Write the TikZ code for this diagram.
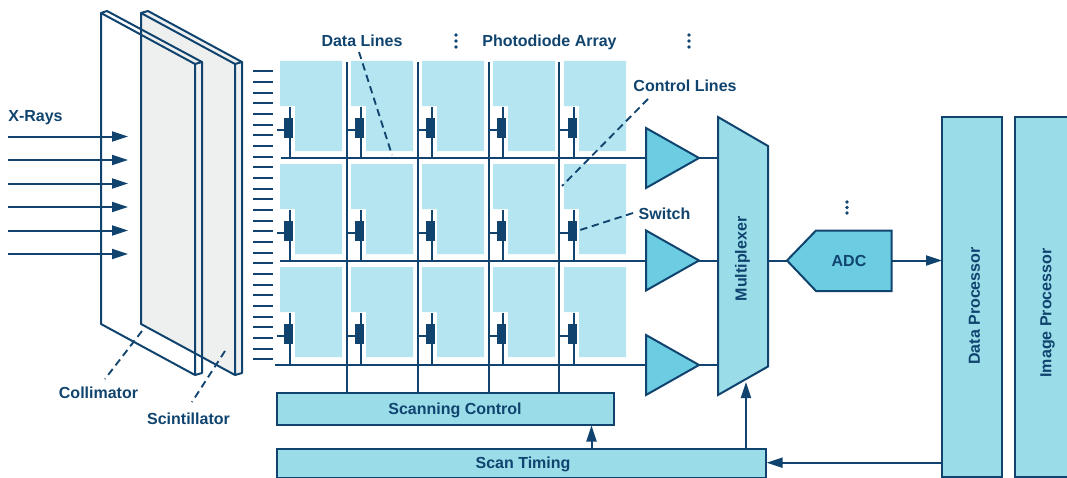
\documentclass[tikz,border=0pt]{standalone}
\usepackage{fontspec}
\setmainfont{Liberation Sans}
\usetikzlibrary{arrows.meta}
\definecolor{navy}{HTML}{10446F}
\definecolor{cell}{HTML}{B5E5F0}
\definecolor{boxfill}{HTML}{9ADDE9}
\definecolor{ampfill}{HTML}{6CCDE2}
\definecolor{plate}{HTML}{EEF0EF}
\tikzset{
  x=0.75pt,y=-0.75pt,
  wire/.style={draw=navy,line width=1.5pt},
  edge/.style={draw=navy,line width=1.5pt,line join=miter},
  arrowline/.style={wire,-{Triangle[length=12pt,width=7.5pt]}},
  leader/.style={draw=navy,line width=1.4pt,dash pattern=on 5.5pt off 3.5pt},
  lab/.style={text=navy,font=\bfseries\fontsize{12}{14}\selectfont,inner sep=0pt},
  blockbox/.style={edge,fill=boxfill,inner sep=0pt},
  celltile/.style={fill=cell,draw=none},
  switchbox/.style={fill=navy,draw=none,inner sep=0pt,minimum width=6.75pt,minimum height=15pt},
  dotmark/.style={fill=navy,draw=none,circle,inner sep=0pt,minimum size=2.7pt},
}
\begin{document}
\begin{tikzpicture}
\useasboundingbox (0,0) rectangle (1067,478);
\clip (0,0) rectangle (1067,478);
% plates
\fill[plate] (141,13) -- (235,64) -- (235,375) -- (141,324) -- cycle;
\fill[plate] (235,64) -- (242,62) -- (242,373) -- (235,375) -- cycle;
\fill[plate] (141,13) -- (148,11) -- (242,62) -- (235,64) -- cycle;
\draw[edge,line join=round] (101,324) -- (101,13) -- (195,64) -- (195,375) -- cycle;
\draw[edge,line join=round] (101,13) -- (107,11) -- (202,62) -- (195,64);
\draw[edge,line join=round] (202,62) -- (202,373) -- (195,375);
\draw[edge,line join=round] (141,324) -- (141,13) -- (235,64) -- (235,375) -- cycle;
\draw[edge,line join=round] (141,13) -- (148,11) -- (242,62) -- (235,64);
\draw[edge,line join=round] (242,62) -- (242,373) -- (235,375);
% x-rays
\foreach \i/\y in {1/136.5,2/160,3/183.5,4/207,5/230.5,6/254}{
  \coordinate (xs\i) at (8,\y);
  \coordinate (xe\i) at (128,\y);
  \draw[arrowline] (xs\i) -- (xe\i);
}
% ticks
\foreach \i in {0,...,27}{
  \coordinate (ts\i) at (253,71.3+10.667*\i);
  \coordinate (te\i) at (273,71.3+10.667*\i);
  \draw[wire] (ts\i) -- (te\i);
}
% cells
\foreach \r/\dy in {1/0,2/103,3/206}{
  \foreach \c/\dx in {1/0,2/71,3/142,4/213,5/284}{
    \fill[celltile,shift={(\dx*0.75pt,-\dy*0.75pt)}]
      (280,61) -- (342,61) -- (342,151) -- (295,151) -- (295,106) -- (280,106) -- cycle;
  }
}
% data and row lines
\node[blockbox,minimum width=252.75pt,minimum height=24.5pt] (scan) at (445.5,409) {};
\node[blockbox,minimum width=366.75pt,minimum height=22pt] (timing) at (521.5,463.5) {};
\node[lab,text height=8.6pt,text depth=0pt] (scantext) at (455,409) {Scanning Control};
\node[lab,text height=8.6pt,text depth=0pt] (timingtext) at (523,462.5) {Scan Timing};
\foreach \i/\x in {1/347,2/417.5,3/488.5,4/559}{
  \coordinate (dt\i) at (\x,62);
  \coordinate (db\i) at (\x,393);
  \draw[wire] (dt\i) -- (db\i);
}
\foreach \r/\x/\y in {1/281/158,2/280/260.5,3/275/365}{
  \coordinate (rs\r) at (\x,\y);
  \coordinate (re\r) at (646,\y);
  \coordinate (tip\r) at (699,\y);
  \coordinate (mi\r) at (718,\y);
  \draw[wire] (rs\r) -- (re\r);
  \draw[wire] (tip\r) -- (mi\r);
  \draw[edge,fill=ampfill] (646,\y-30) -- (tip\r) -- (646,\y+30) -- cycle;
}
% switches
\foreach \r/\dy/\ybot in {1/0/158,2/103/260.5,3/206/365}{
  \foreach \c/\x/\s in {1/288.5/277,2/359.5/347,3/430.5/417.5,4/501.5/488.5,5/572.5/559}{
    \node[switchbox] (sw\r\c) at (\x,128+\dy) {};
    \draw[wire] (\x+1,107+\dy) -- (\x+1,\ybot);
    \draw[wire] (\s,130+\dy) -- (sw\r\c.west |- {0,130+\dy});
    \node[switchbox] at (\x,128+\dy) {};
  }
}
% multiplexer
\draw[edge,fill=boxfill] (718,117) -- (768,146) -- (768,366.5) -- (718,395) -- cycle;
\node[lab,rotate=90] (mux) at (742.5,259) {Multiplexer};
% ADC
\draw[edge,fill=ampfill] (787,260.5) -- (816,230.5) -- (891.5,230.5) -- (891.5,291) -- (816,291) -- cycle;
\node[lab] (adc) at (849,261) {ADC};
\coordinate (muxout) at (768,260.5);
\coordinate (adcin) at (787,260.5);
\coordinate (adcout) at (891.5,260.5);
\draw[wire] (muxout) -- (adcin);
% processors
\node[blockbox,minimum width=45pt,minimum height=269.6pt] (dp) at (972.3,296.8) {};
\node[blockbox,minimum width=48pt,minimum height=269.6pt] (ip) at (1047,296.8) {};
\node[lab,rotate=90] (dptext) at (974.5,306) {Data Processor};
\node[lab,rotate=90] (iptext) at (1047.5,313) {Image Processor};
\coordinate (dpin) at (942,260.5);
\draw[arrowline] (adcout) -- (dpin);
\coordinate (dpout) at (942,462.7);
\coordinate (tin) at (766.5,462.7);
\draw[arrowline] (dpout) -- (tin);
\coordinate (t1) at (591.5,449);
\coordinate (s1) at (591.5,425.5);
\draw[arrowline] (t1) -- (s1);
\coordinate (t2) at (746,449);
\coordinate (m2) at (746,382);
\draw[arrowline] (t2) -- (m2);
% dots
\foreach \n/\x/\y in {a/456/35,b/456/41,c/456/47,d/689/35,e/689/41,f/689/47,g/847/202,h/847/207.5,i/847/213}{
  \node[dotmark] (dot\n) at (\x,\y) {};
}
% labels
\node[lab] (xr) at (35.5,117.5) {X-Rays};
\node[lab] (dl) at (362,40.5) {Data Lines};
\node[lab] (pa) at (549.5,42.5) {Photodiode Array};
\node[lab] (cl) at (685,86) {Control Lines};
\node[lab] (sw) at (664.5,214) {Switch};
\node[lab] (co) at (98.5,393) {Collimator};
\node[lab] (sc) at (188.5,419) {Scintillator};
% leaders
\coordinate (l1a) at (359,52); \coordinate (l1b) at (392,155);
\coordinate (l2a) at (648,99); \coordinate (l2b) at (562,186);
\coordinate (l3a) at (633,213); \coordinate (l3b) at (577,231);
\coordinate (l4a) at (142,331); \coordinate (l4b) at (105,379);
\coordinate (l5a) at (225,351); \coordinate (l5b) at (192,402);
\foreach \i in {1,...,5}{ \draw[leader] (l\i a) -- (l\i b); }
\end{tikzpicture}
\end{document}
